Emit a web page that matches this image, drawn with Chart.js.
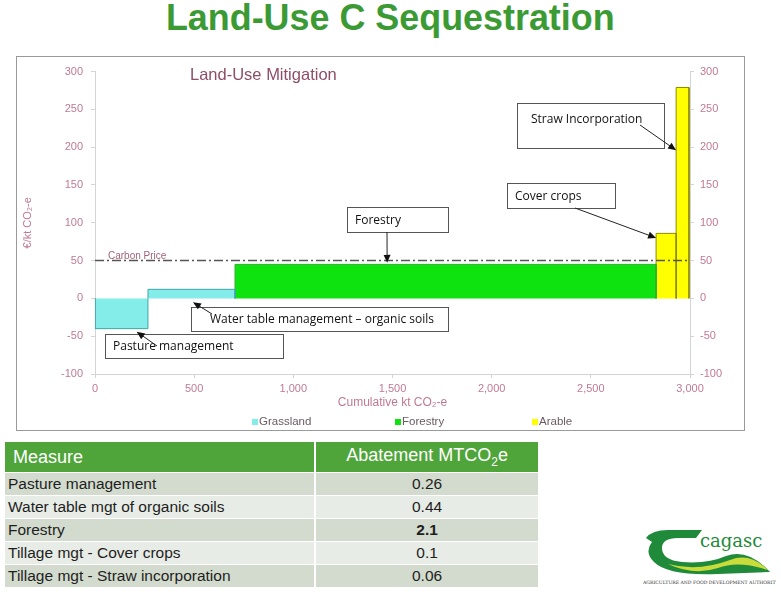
<!DOCTYPE html>
<html>
<head>
<meta charset="utf-8">
<script src="https://cdn.jsdelivr.net/npm/chart.js@4.4.1/dist/chart.umd.min.js"></script>
<style>
  body { margin: 0; background: #fff; width: 781px; height: 597px; overflow: hidden; position: relative; font-family: "Liberation Sans", Arial, sans-serif; }
  #title { position: absolute; left: 0; width: 781px; top: -3px; text-align: center; color: #3c9a35; font-weight: bold; font-size: 37px; }
  #title span { display: inline-block; transform: scaleX(0.97); transform-origin: center; }
  #frame { position: absolute; left: 16px; top: 56px; width: 727px; height: 373px; border: 1px solid #9a9a9a; }
  #frame canvas { display: block; }
  table { position: absolute; left: 5px; top: 442px; border-collapse: collapse; width: 533px; font-size: 15.5px; color: #1e1e1e; }
  th { background: #4fa43a; color: #fff; font-weight: normal; font-size: 18px; height: 30px; padding: 0 0 0 8px; text-align: left; border-right: 2px solid #fff; }
  th.v { text-align: center; padding: 0; border-right: none; }
  td { height: 22px; padding: 0 0 0 3px; border-top: 1px solid #fff; border-right: 2px solid #fff; line-height: 20px; }
  td.v { text-align: center; padding: 0; border-right: none; }
  tr.d td { background: #d3dbcf; }
  tr.l td { background: #e8ece6; }
  #logo { position: absolute; left: 638px; top: 520px; }
</style>
</head>
<body>
<div id="title"><span>Land-Use C Sequestration</span></div>
<div id="frame"><canvas id="macc" width="727" height="373"></canvas></div>
<table id="tbl"></table>
<svg id="logo" width="138" height="70" viewBox="0 0 138 70">
  <path d="M8 18 Q14 10 30 10 L64 10 L58 18 L40 18 Q24 18 24 28 Q24 40 44 42 Q70 44 88 36 Q110 28 132 52 L80 54 Q30 56 16 42 Q6 32 14 22 Z" fill="#1f8a3a"/>
  <path d="M30 44 Q60 52 92 40 Q112 32 130 50 Q100 40 80 48 Q56 56 30 44 Z" fill="#c9dc3c"/>
  <text x="62" y="27" font-family="DejaVu Serif, serif" font-size="18" fill="#1f8a3a">cagasc</text>
  <text x="5" y="64" font-family="DejaVu Serif, serif" font-size="4.6" fill="#333">AGRICULTURE AND FOOD DEVELOPMENT AUTHORITY</text>
</svg>
<script>
// measures on the cost curve (kt CO2-e on x, euro/t on y)
const measures = ["Pasture management", "Water table management – organic soils", "Forestry", "Cover crops", "Straw Incorporation"];
const groups = ["Grassland", "Grassland", "Forestry", "Arable", "Arable"];
const barStart = [0, 267, 706, 2829, 2930];
const barEnd = [267, 706, 2829, 2930, 2995];
const barCost = [-40, 12, 45, 86, 279];
const carbonPrice = 50;
const xTicks = [0, 500, 1000, 1500, 2000, 2500, 3000];
const yTicks = [-100, -50, 0, 50, 100, 150, 200, 250, 300];

// table under the chart
const tableMeasures = ["Pasture management", "Water table mgt of organic soils", "Forestry", "Tillage mgt - Cover crops", "Tillage mgt - Straw incorporation"];
const abatement = ["0.26", "0.44", "2.1", "0.1", "0.06"];

const groupFill = { Grassland: "#84ece9", Forestry: "#0fe30f", Arable: "#ffff00" };
const groupLine = { Grassland: "#3fa8a6", Forestry: "#2fae2f", Arable: "#8c8a00" };
const pink = "#bf7a90";

const tbl = document.getElementById("tbl");
let html = '<tr><th>Measure</th><th class="v">Abatement MTCO<sub style="font-size:12px">2</sub>e</th></tr>';
tableMeasures.forEach(function (m, i) {
  const v = i === 2 ? "<b>" + abatement[i] + "</b>" : abatement[i];
  html += '<tr class="' + (i % 2 ? "l" : "d") + '"><td>' + m + '</td><td class="v">' + v + "</td></tr>";
});
tbl.innerHTML = html;

const datasets = measures.map(function (m, i) {
  return {
    label: groups[i],
    data: [
      { x: barStart[i], y: 0 },
      { x: barStart[i], y: barCost[i] },
      { x: barEnd[i], y: barCost[i] },
      { x: barEnd[i], y: 0 },
    ],
    backgroundColor: groupFill[groups[i]],
    borderColor: groupLine[groups[i]],
    borderWidth: 1,
    fill: "origin",
    pointRadius: 0,
    tension: 0,
  };
});
datasets.push({
  label: "Carbon Price",
  data: [{ x: xTicks[0], y: carbonPrice }, { x: xTicks[xTicks.length - 1], y: carbonPrice }],
  borderColor: "#555",
  borderWidth: 1.5,
  borderDash: [9, 3, 2, 3],
  fill: false,
  pointRadius: 0,
  order: -1,
});

// callout boxes (canvas px) with the data point the arrow points to
const callouts = [
  { text: measures[0], box: [88, 277, 266, 301], tx: 96, from: [140, 289], to: [210, -44] },
  { text: measures[1], box: [174, 250, 431, 274], tx: 193, from: [195, 257], to: [494, -5] },
  { text: measures[2], box: [330, 150, 431, 175], tx: 338, from: [370, 175], to: [1473, 47] },
  { text: measures[3], box: [490, 126, 598, 151], tx: 498, from: [558, 151], to: [2829, 80] },
  { text: measures[4], box: [500, 46, 647, 91], tx: 514, from: [623, 68], to: [2930, 196] },
];

function arrow(ctx, x0, y0, x1, y1) {
  const a = Math.atan2(y1 - y0, x1 - x0);
  ctx.beginPath();
  ctx.moveTo(x0, y0);
  ctx.lineTo(x1 - 5 * Math.cos(a), y1 - 5 * Math.sin(a));
  ctx.stroke();
  ctx.beginPath();
  ctx.moveTo(x1, y1);
  ctx.lineTo(x1 - 8 * Math.cos(a) + 3.5 * Math.sin(a), y1 - 8 * Math.sin(a) - 3.5 * Math.cos(a));
  ctx.lineTo(x1 - 8 * Math.cos(a) - 3.5 * Math.sin(a), y1 - 8 * Math.sin(a) + 3.5 * Math.cos(a));
  ctx.closePath();
  ctx.fill();
}

const overlay = {
  id: "overlay",
  afterDatasetsDraw(chart) {
    const ctx = chart.ctx;
    const x = chart.scales.x, y = chart.scales.y;
    ctx.save();
    // chart heading
    ctx.fillStyle = "#8e4d66";
    ctx.font = "16.5px 'Liberation Sans', Arial";
    ctx.textBaseline = "middle";
    ctx.fillText("Land-Use Mitigation", 173, 18);
    // carbon price label
    ctx.fillStyle = "#a0627a";
    ctx.font = "10px 'Liberation Sans', Arial";
    ctx.textBaseline = "alphabetic";
    ctx.fillText("Carbon Price", x.getPixelForValue(0) + 13, y.getPixelForValue(carbonPrice) - 2);
    // callouts
    ctx.font = "12px 'Open Sans'";
    ctx.textBaseline = "middle";
    callouts.forEach(function (c) {
      const b = c.box;
      ctx.fillStyle = "#fff";
      ctx.fillRect(b[0], b[1], b[2] - b[0], b[3] - b[1]);
      ctx.strokeStyle = "#555";
      ctx.lineWidth = 1;
      ctx.strokeRect(b[0] + 0.5, b[1] + 0.5, b[2] - b[0], b[3] - b[1]);
      ctx.fillStyle = "#111";
      ctx.fillText(c.text, c.tx, c.text === measures[4] ? b[1] + 17 : (b[1] + b[3]) / 2 + 1);
      ctx.strokeStyle = "#222";
      ctx.fillStyle = "#111";
      arrow(ctx, c.from[0], c.from[1], x.getPixelForValue(c.to[0]), y.getPixelForValue(c.to[1]));
    });
    ctx.restore();
  },
  afterDraw(chart) {
    // legend
    const ctx = chart.ctx;
    const items = [["Grassland", 238], ["Forestry", 381], ["Arable", 518]];
    ctx.save();
    ctx.font = "11.5px 'Liberation Sans', Arial";
    ctx.textBaseline = "middle";
    items.forEach(function (it) {
      ctx.fillStyle = groupFill[it[0]];
      ctx.fillRect(it[1] - 3, 362, 6, 6);
      ctx.fillStyle = "#6b5a62";
      ctx.fillText(it[0], it[1] + 4, 365);
    });
    ctx.restore();
  },
};

const tickFont = { family: "'Liberation Sans', Arial", size: 11 };

new Chart(document.getElementById("macc"), {
  type: "line",
  data: { datasets: datasets },
  options: {
    responsive: false,
    animation: false,
    events: [],
    layout: { padding: { top: 10, left: 0, right: 0, bottom: 0 } },
    plugins: { legend: { display: false }, tooltip: { enabled: false } },
    scales: {
      x: {
        type: "linear",
        min: xTicks[0],
        max: xTicks[xTicks.length - 1],
        afterBuildTicks: function (s) { s.ticks = xTicks.map(function (v) { return { value: v }; }); },
        afterFit: function (s) { s.height = 56; },
        grid: { drawOnChartArea: false, tickLength: 4, color: "#d4d4d4" },
        border: { color: "#d4d4d4" },
        ticks: { padding: 4, color: pink, font: tickFont, callback: function (v) { return v.toLocaleString("en-US"); } },
        title: { display: true, text: "Cumulative kt CO₂-e", color: pink, font: { family: "'Liberation Sans', Arial", size: 12 }, padding: { top: 0, bottom: 20 } },
      },
      y: {
        position: "left",
        min: yTicks[0],
        max: yTicks[yTicks.length - 1],
        afterBuildTicks: function (s) { s.ticks = yTicks.map(function (v) { return { value: v }; }); },
        afterFit: function (s) { s.width = 78; },
        grid: { drawOnChartArea: false, tickLength: 4, color: "#d4d4d4" },
        border: { color: "#d4d4d4" },
        ticks: { padding: 8, color: pink, font: tickFont },
        title: { display: true, text: "€/kt CO₂-e", color: pink, font: { family: "'Liberation Sans', Arial", size: 11 }, padding: { top: 4, bottom: 0 } },
      },
      y2: {
        position: "right",
        display: true,
        min: yTicks[0],
        max: yTicks[yTicks.length - 1],
        afterBuildTicks: function (s) { s.ticks = yTicks.map(function (v) { return { value: v }; }); },
        afterFit: function (s) { s.width = 54; },
        grid: { drawOnChartArea: false, tickLength: 4, color: "#d4d4d4" },
        border: { color: "#d4d4d4" },
        ticks: { padding: 6, color: pink, font: tickFont },
      },
    },
  },
  plugins: [overlay],
});
</script>
</body>
</html>
